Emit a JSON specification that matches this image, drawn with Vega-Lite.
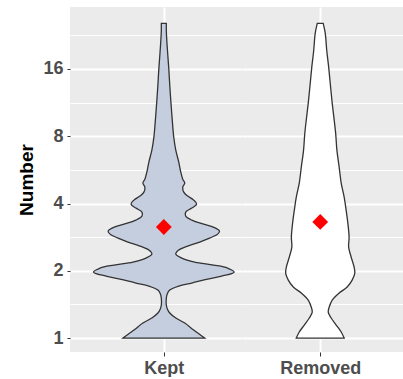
{
  "$schema": "https://vega.github.io/schema/vega-lite/v6.json",
  "padding": {"left": 17, "top": 7, "right": 0, "bottom": 0},
  "spacing": 0,
  "config": {
    "view": {"fill": "#EBEBEB", "stroke": null},
    "axis": {
      "labelFont": "Liberation Sans",
      "titleFont": "Liberation Sans",
      "labelFontWeight": "bold",
      "labelFontSize": 18,
      "labelColor": "#4D4D4D",
      "titleFontSize": 19,
      "titleFontWeight": "bold",
      "titleColor": "#000000",
      "gridColor": "#FFFFFF",
      "tickColor": "#333333",
      "domain": false
    }
  },
  "datasets": {
    "violin": [
      {"group": "Kept", "number": 1, "width": 0.522},
      {"group": "Kept", "number": 1.086, "width": 0.382},
      {"group": "Kept", "number": 1.167, "width": 0.268},
      {"group": "Kept", "number": 1.229, "width": 0.153},
      {"group": "Kept", "number": 1.294, "width": 0.076},
      {"group": "Kept", "number": 1.35, "width": 0.045},
      {"group": "Kept", "number": 1.405, "width": 0.032},
      {"group": "Kept", "number": 1.51, "width": 0.032},
      {"group": "Kept", "number": 1.58, "width": 0.045},
      {"group": "Kept", "number": 1.64, "width": 0.076},
      {"group": "Kept", "number": 1.709, "width": 0.191},
      {"group": "Kept", "number": 1.762, "width": 0.357},
      {"group": "Kept", "number": 1.836, "width": 0.561},
      {"group": "Kept", "number": 1.894, "width": 0.739},
      {"group": "Kept", "number": 1.973, "width": 0.9},
      {"group": "Kept", "number": 2.057, "width": 0.815},
      {"group": "Kept", "number": 2.121, "width": 0.637},
      {"group": "Kept", "number": 2.187, "width": 0.395},
      {"group": "Kept", "number": 2.28, "width": 0.229},
      {"group": "Kept", "number": 2.375, "width": 0.153},
      {"group": "Kept", "number": 2.475, "width": 0.191},
      {"group": "Kept", "number": 2.579, "width": 0.306},
      {"group": "Kept", "number": 2.688, "width": 0.459},
      {"group": "Kept", "number": 2.8, "width": 0.586},
      {"group": "Kept", "number": 2.918, "width": 0.688},
      {"group": "Kept", "number": 3.01, "width": 0.713},
      {"group": "Kept", "number": 3.104, "width": 0.662},
      {"group": "Kept", "number": 3.235, "width": 0.51},
      {"group": "Kept", "number": 3.372, "width": 0.357},
      {"group": "Kept", "number": 3.513, "width": 0.28},
      {"group": "Kept", "number": 3.661, "width": 0.28},
      {"group": "Kept", "number": 3.815, "width": 0.357},
      {"group": "Kept", "number": 3.975, "width": 0.42},
      {"group": "Kept", "number": 4.143, "width": 0.382},
      {"group": "Kept", "number": 4.317, "width": 0.306},
      {"group": "Kept", "number": 4.5, "width": 0.255},
      {"group": "Kept", "number": 4.737, "width": 0.242},
      {"group": "Kept", "number": 4.935, "width": 0.268},
      {"group": "Kept", "number": 5.14, "width": 0.242},
      {"group": "Kept", "number": 5.53, "width": 0.217},
      {"group": "Kept", "number": 6.13, "width": 0.191},
      {"group": "Kept", "number": 6.93, "width": 0.153},
      {"group": "Kept", "number": 7.93, "width": 0.127},
      {"group": "Kept", "number": 9.44, "width": 0.108},
      {"group": "Kept", "number": 11.6, "width": 0.089},
      {"group": "Kept", "number": 13.54, "width": 0.076},
      {"group": "Kept", "number": 15.97, "width": 0.064},
      {"group": "Kept", "number": 18.44, "width": 0.051},
      {"group": "Kept", "number": 21.5, "width": 0.038},
      {"group": "Kept", "number": 23.86, "width": 0.032},
      {"group": "Kept", "number": 25.6, "width": 0.032},
      {"group": "Removed", "number": 1, "width": 0.306},
      {"group": "Removed", "number": 1.064, "width": 0.268},
      {"group": "Removed", "number": 1.143, "width": 0.204},
      {"group": "Removed", "number": 1.229, "width": 0.14},
      {"group": "Removed", "number": 1.307, "width": 0.102},
      {"group": "Removed", "number": 1.376, "width": 0.115},
      {"group": "Removed", "number": 1.479, "width": 0.153},
      {"group": "Removed", "number": 1.59, "width": 0.242},
      {"group": "Removed", "number": 1.691, "width": 0.344},
      {"group": "Removed", "number": 1.817, "width": 0.408},
      {"group": "Removed", "number": 1.953, "width": 0.442},
      {"group": "Removed", "number": 2.078, "width": 0.433},
      {"group": "Removed", "number": 2.304, "width": 0.395},
      {"group": "Removed", "number": 2.553, "width": 0.363},
      {"group": "Removed", "number": 2.83, "width": 0.369},
      {"group": "Removed", "number": 3.27, "width": 0.353},
      {"group": "Removed", "number": 3.737, "width": 0.331},
      {"group": "Removed", "number": 4.27, "width": 0.306},
      {"group": "Removed", "number": 4.935, "width": 0.268},
      {"group": "Removed", "number": 5.82, "width": 0.242},
      {"group": "Removed", "number": 6.93, "width": 0.213},
      {"group": "Removed", "number": 8.26, "width": 0.197},
      {"group": "Removed", "number": 11.6, "width": 0.149},
      {"group": "Removed", "number": 16.3, "width": 0.108},
      {"group": "Removed", "number": 19.4, "width": 0.083},
      {"group": "Removed", "number": 23.13, "width": 0.064},
      {"group": "Removed", "number": 25.6, "width": 0.038}
    ],
    "means": [
      {"group": "Kept", "mean": 3.14},
      {"group": "Removed", "mean": 3.31}
    ]
  },
  "hconcat": [
    {
      "width": 172,
      "height": 345,
      "layer": [
        {
          "data": {"name": "violin"},
          "transform": [{"filter": "datum.group === 'Kept'"}],
          "mark": {"type": "area", "orient": "horizontal", "interpolate": "catmull-rom", "clip": true, "fill": "#C5CEDF", "fillOpacity": 1, "stroke": "#333333", "strokeWidth": 1.3},
          "encoding": {
            "y": {
              "field": "number", "type": "quantitative",
              "scale": {"type": "log", "base": 2, "domain": [0.866, 30.3], "nice": false, "zero": false},
              "axis": {"values": [1, 2, 4, 8, 16], "title": "Number", "grid": true, "gridWidth": 2, "tickSize": 3, "labelPadding": 4, "minExtent": 27, "maxExtent": 27, "titlePadding": 7}
            },
            "x": {
              "field": "width", "type": "quantitative", "stack": "center",
              "scale": {"domain": [-0.15, 0.95], "nice": false, "zero": false},
              "axis": {"values": [0.45], "labelExpr": "'Kept'", "title": null, "grid": true, "gridWidth": 2, "tickSize": 4, "labelPadding": 3}
            }
          }
        },
        {
          "data": {"name": "means"},
          "transform": [{"filter": "datum.group === 'Kept'"}],
          "mark": {"type": "point", "shape": "diamond", "filled": true, "color": "#FF0000", "size": 250, "opacity": 1},
          "encoding": {
            "x": {"datum": 0.45, "type": "quantitative"},
            "y": {
              "field": "mean", "type": "quantitative",
              "axis": {"values": [1.4142, 2.8284, 5.6569, 11.3137, 22.6274], "orient": "right", "labels": false, "ticks": false, "domain": false, "title": null, "grid": true, "gridWidth": 1, "minExtent": 0, "maxExtent": 0}
            }
          }
        }
      ],
      "resolve": {"axis": {"y": "independent"}}
    },
    {
      "width": 161,
      "height": 345,
      "layer": [
        {
          "data": {"name": "violin"},
          "transform": [{"filter": "datum.group === 'Removed'"}],
          "mark": {"type": "area", "orient": "horizontal", "interpolate": "catmull-rom", "clip": true, "fill": "#FFFFFF", "fillOpacity": 1, "stroke": "#333333", "strokeWidth": 1.3},
          "encoding": {
            "y": {
              "field": "number", "type": "quantitative",
              "scale": {"type": "log", "base": 2, "domain": [0.866, 30.3], "nice": false, "zero": false},
              "axis": {"values": [1, 2, 4, 8, 16], "title": null, "labels": false, "ticks": false, "grid": true, "gridWidth": 2, "minExtent": 0, "maxExtent": 0}
            },
            "x": {
              "field": "width", "type": "quantitative", "stack": "center",
              "scale": {"domain": [-0.279, 0.75], "nice": false, "zero": false},
              "axis": {"values": [0.221], "labelExpr": "'Removed'", "title": null, "grid": true, "gridWidth": 2, "tickSize": 4, "labelPadding": 3}
            }
          }
        },
        {
          "data": {"name": "means"},
          "transform": [{"filter": "datum.group === 'Removed'"}],
          "mark": {"type": "point", "shape": "diamond", "filled": true, "color": "#FF0000", "size": 250, "opacity": 1},
          "encoding": {
            "x": {"datum": 0.221, "type": "quantitative"},
            "y": {
              "field": "mean", "type": "quantitative",
              "axis": {"values": [1.4142, 2.8284, 5.6569, 11.3137, 22.6274], "orient": "right", "labels": false, "ticks": false, "domain": false, "title": null, "grid": true, "gridWidth": 1, "minExtent": 0, "maxExtent": 0}
            }
          }
        }
      ],
      "resolve": {"axis": {"y": "independent"}}
    }
  ]
}
